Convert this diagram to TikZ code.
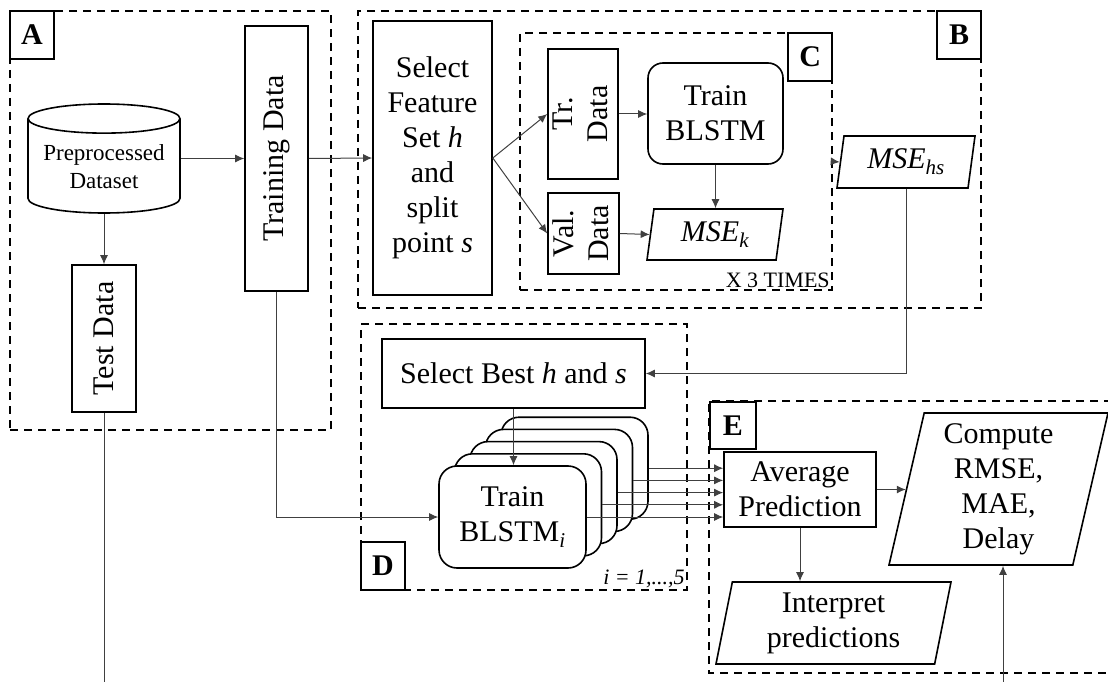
\documentclass[tikz,border=0pt]{standalone}
\usepackage{fontspec}
\setmainfont{Liberation Serif}
\usetikzlibrary{arrows.meta,positioning,shapes.geometric}

\begin{document}
\begin{tikzpicture}[x=1pt, y=-1pt, >={Latex[length=9pt,width=8pt]},
                font=\fontsize{30}{35}\selectfont,
                box/.style={draw, line width=1.6pt, inner sep=0pt, align=center},
                rbox/.style={box, rounded corners=18pt, fill=white},
                para/.style={box, trapezium, trapezium left angle=75,
                  trapezium right angle=105, trapezium stretches body},
                grpbox/.style={draw, line width=1.8pt, dash pattern=on 8pt off 6pt, inner sep=0pt},
                tagbox/.style={draw, fill=white, line width=1.6pt, inner sep=0pt,
                  minimum width=44, minimum height=48, font=\fontsize{30}{35}\selectfont\bfseries},
                wire/.style={line width=1pt, draw=black!75},
                link/.style={wire, ->},
                small/.style={font=\fontsize{22}{26}\selectfont, inner sep=3pt}]

  \useasboundingbox (0,0) rectangle (1108,682);

  % A: data split
  \node[grpbox, minimum width=321, minimum height=419] (grpA) at (170.5,220.5) {};
  \node[tagbox, anchor=north west] (tagA) at (grpA.north west) {A};
  \node[box, cylinder, shape border rotate=90, aspect=0.24, minimum width=152, minimum height=109,
        anchor=shape center, font=\fontsize{23}{28}\selectfont] (data) at (104,158.5) {Preprocessed\\Dataset};
  \node[box, minimum width=63, minimum height=265] (train) at (276.5,158.5) {\rotatebox{90}{Training Data}};
  \node[box, minimum width=64, minimum height=147] (test) at (104,338.5) {\rotatebox{90}{Test Data}};

  % B: feature set / split point search
  \node[grpbox, minimum width=623, minimum height=297] (grpB) at (669.5,159.5) {};
  \node[tagbox, anchor=north east] (tagB) at (grpB.north east) {B};
  \node[box, minimum width=119, minimum height=274] (select) at (432.5,158)
    {Select\\Feature\\Set \textit{h}\\and\\split\\point \textit{s}};
  \node[para, minimum width=138, minimum height=52] (msehs) at (906,162) {\textit{MSE\textsubscript{hs}}};

  % C: repeated validation
  \node[grpbox, minimum width=312, minimum height=257] (grpC) at (676,161.5) {};
  \node[tagbox, anchor=north east] (tagC) at (grpC.north east) {C};
  \node[box, minimum width=70, minimum height=130] (trdata) at (583,114)
    {\rotatebox{90}{\begin{tabular}{@{}c@{}}Tr.\\Data\end{tabular}}};
  \node[box, minimum width=71, minimum height=81] (valdata) at (583.5,233.5)
    {\rotatebox{90}{\begin{tabular}{@{}c@{}}Val.\\Data\end{tabular}}};
  \node[rbox, rounded corners=15pt, minimum width=135, minimum height=101] (trainc) at (715.5,113.5) {Train\\BLSTM};
  \node[para, minimum width=136, minimum height=51] (msek) at (715,234.5) {\textit{MSE\textsubscript{k}}};
  \node[small, anchor=south east] (times) at (grpC.south east) {X 3 TIMES};

  % D: ensemble training
  \node[grpbox, minimum width=326, minimum height=266] (grpD) at (524,457) {};
  \node[tagbox, anchor=south west] (tagD) at (grpD.south west) {D};
  \node[box, minimum width=263, minimum height=69] (best) at (513.5,373.5) {Select Best \textit{h} and \textit{s}};
  \foreach \k in {4,3,2,1}
    \node[rbox, minimum width=147, minimum height=102] (blstm\k) at (512.5+15.5*\k, 517-12.2*\k) {};
  \node[rbox, minimum width=147, minimum height=102] (blstm0) at (512.5,517) {Train\\BLSTM\textsubscript{\textit{i}}};
  \node[small, anchor=south east, font={\fontsize{22}{26}\selectfont\itshape}] (runs) at (grpD.south east) {i = 1,...,5};

  % E: evaluation
  \coordinate (cornerE) at (709,401);
  \draw[line width=1.8pt, dash pattern=on 8pt off 6pt] (1112,401) -| (709,673) -- (1112,673);
  \node[tagbox, anchor=north west, minimum width=46, minimum height=47] (tagE) at (cornerE) {E};
  \node[box, minimum width=152, minimum height=75] (avg) at (800,489.5) {Average\\Prediction};
  \node[para, minimum width=219, minimum height=152] (compute) at (998.5,489) {Compute\\RMSE,\\MAE,\\Delay};
  \node[para, minimum width=235, minimum height=82] (interp) at (833.5,623) {Interpret\\predictions};

  \coordinate (testend) at (104,682);
  \coordinate (evalin) at (1003,682);

  \draw[link] (data.east |- train.west) -- (train.west);
  \draw[link] (data.south) -- (test.north);
  \draw[link] (train.east) -- (select.west);
  \draw[link] (train.south) |- (blstm0.west);
  \draw[link] (select.east) -- (trdata.west);
  \draw[link] (select.east) -- (valdata.west);
  \draw[link] (trdata.east) -- (trdata.east -| trainc.west);
  \draw[link] (trainc.south) -- (trainc.south |- msek.north);
  \draw[link] (valdata.east) -- (msek.west);
  \draw[link] (grpC.east) -- (msehs.west);
  \draw[link] (msehs.south) |- (best.east);
  \draw[link] (best.south) -- (best.south |- blstm0.north);
  \foreach \k in {0,...,4}
    \draw[link] (blstm\k.east) -- (blstm\k.east -| avg.west);
  \draw[link] (avg.east) -- (avg.east -| compute.west);
  \draw[link] (avg.south) -- (avg.south |- interp.north);
  \draw[wire] (test.south) -- (testend);
  \draw[link] (evalin) -- (evalin |- compute.south);
\end{tikzpicture}
\end{document}
